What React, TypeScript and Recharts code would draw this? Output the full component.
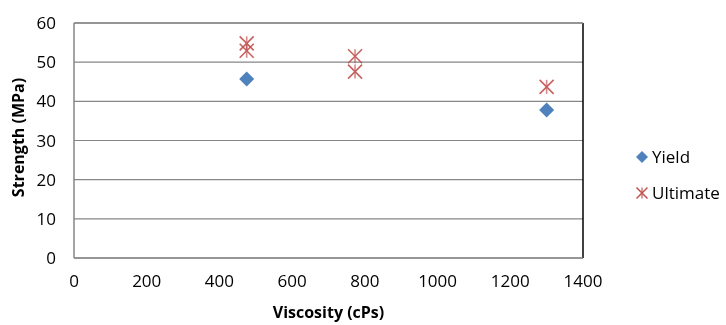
import React from "react";
import {
  ScatterChart,
  Scatter,
  XAxis,
  YAxis,
  CartesianGrid,
  ReferenceLine,
  Label,
} from "recharts";

const yieldViscosity = [475, 1300];
const yieldStrength = [45.7, 37.8];

const ultimateViscosity = [475, 475, 773, 773, 1300];
const ultimateStrength = [54.8, 52.9, 51.5, 47.6, 43.7];

const xTicks = [0, 200, 400, 600, 800, 1000, 1200, 1400];
const yTicks = [0, 10, 20, 30, 40, 50, 60];

const yieldData = yieldViscosity.map((x, i) => ({ x, y: yieldStrength[i] }));
const ultimateData = ultimateViscosity.map((x, i) => ({
  x,
  y: ultimateStrength[i],
}));

const BLUE = "#4F81BD";
const RED = "#C0504D";
const FONT = "'Open Sans', sans-serif";

const Diamond = (props: any) => {
  const { cx, cy } = props;
  const r = 7.5;
  return (
    <path
      d={`M${cx},${cy - r} L${cx + r},${cy} L${cx},${cy + r} L${cx - r},${cy} Z`}
      fill={BLUE}
    />
  );
};

const Star = (props: any) => {
  const { cx, cy } = props;
  const r = 7;
  return (
    <g stroke={RED} strokeWidth={1.6} opacity={0.9}>
      <line x1={cx - r} y1={cy - r} x2={cx + r} y2={cy + r} />
      <line x1={cx - r} y1={cy + r} x2={cx + r} y2={cy - r} />
      <line x1={cx} y1={cy - r} x2={cx} y2={cy + r} strokeOpacity={0.75} />
    </g>
  );
};

export default function App() {
  return (
    <div style={{ position: "fixed", left: 0, top: 0, width: 726, height: 325 }}>
      <ScatterChart
        width={726}
        height={325}
        margin={{ top: 23, right: 143, bottom: 5, left: 0 }}
      >
        <CartesianGrid
          vertical={false}
          horizontal={true}
          stroke="#868686"
          strokeWidth={1.2}
        />
        <XAxis
          type="number"
          dataKey="x"
          domain={[0, 1400]}
          ticks={xTicks}
          tickLine={false}
          tickSize={0}
          tickMargin={17}
          height={62}
          axisLine={{ stroke: "#868686", strokeWidth: 1.5 }}
          tick={{ fill: "#000", fontSize: 17, fontFamily: FONT }}
        >
          <Label
            value="Viscosity (cPs)"
            position="insideBottom"
            offset={2}
            style={{ fontFamily: FONT, fontSize: 16, fontWeight: 700, fill: "#000" }}
          />
        </XAxis>
        <YAxis
          type="number"
          dataKey="y"
          domain={[0, 60]}
          ticks={yTicks}
          tickLine={false}
          tickSize={0}
          tickMargin={18}
          width={74}
          axisLine={{ stroke: "#868686", strokeWidth: 1.5 }}
          tick={{ fill: "#000", fontSize: 17, fontFamily: FONT }}
        >
          <Label
            content={(p: any) => {
              const vb = p.viewBox || {};
              const cx = 18;
              const cy = vb.y + vb.height / 2 - 3;
              return (
                <text
                  x={cx}
                  y={cy}
                  transform={`rotate(-90 ${cx} ${cy})`}
                  textAnchor="middle"
                  dominantBaseline="central"
                  style={{ fontFamily: FONT, fontSize: 16, fontWeight: 700, fill: "#000" }}
                >
                  Strength (MPa)
                </text>
              );
            }}
          />
        </YAxis>
        <ReferenceLine x={1400} stroke="#000" strokeWidth={1.5} />
        <ReferenceLine y={60} stroke="#868686" strokeWidth={1.5} />
        <Scatter
          name="Yield"
          data={yieldData}
          shape={<Diamond />}
          isAnimationActive={false}
        />
        <Scatter
          name="Ultimate"
          data={ultimateData}
          shape={<Star />}
          isAnimationActive={false}
        />
      </ScatterChart>
      <div
        style={{
          position: "absolute",
          left: 634,
          top: 146,
          fontFamily: FONT,
          fontSize: 17,
          color: "#000",
          lineHeight: "22px",
        }}
      >
        <div style={{ display: "flex", alignItems: "center", height: 22 }}>
          <svg width={16} height={16} style={{ marginRight: 2 }}>
            <path d="M8,2 L14,8 L8,14 L2,8 Z" fill={BLUE} />
          </svg>
          <span>Yield</span>
        </div>
        <div style={{ display: "flex", alignItems: "center", height: 22, marginTop: 14 }}>
          <svg width={16} height={16} style={{ marginRight: 2 }}>
            <g stroke={RED} strokeWidth={1.5}>
              <line x1={2.5} y1={2.5} x2={13.5} y2={13.5} />
              <line x1={2.5} y1={13.5} x2={13.5} y2={2.5} />
              <line x1={8} y1={2.5} x2={8} y2={13.5} strokeOpacity={0.75} />
            </g>
          </svg>
          <span>Ultimate</span>
        </div>
      </div>
    </div>
  );
}
